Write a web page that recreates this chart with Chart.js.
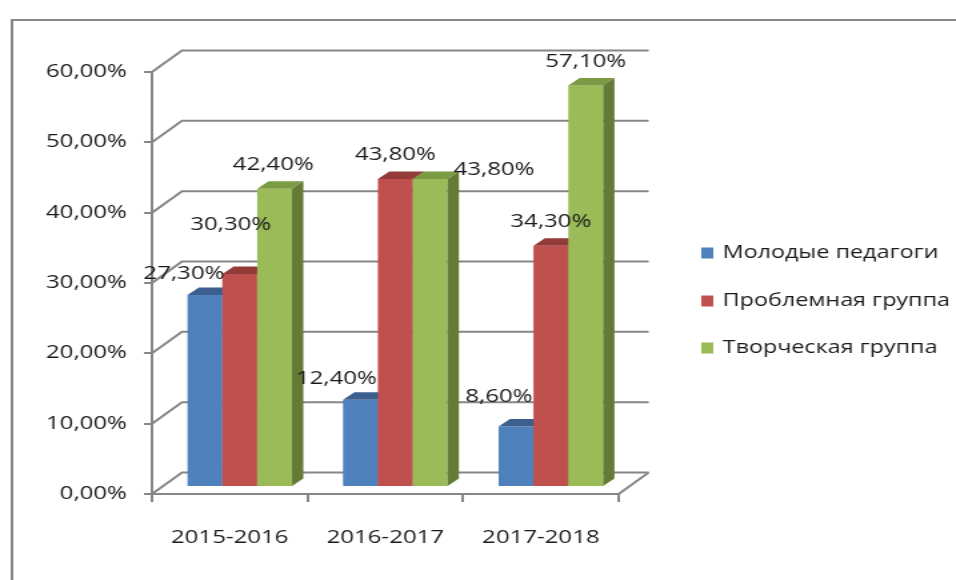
<!DOCTYPE html>
<html>
<head>
<meta charset="utf-8">
<script src="https://cdn.jsdelivr.net/npm/chart.js@4.4.0/dist/chart.umd.min.js"></script>
<style>
html, body { margin: 0; padding: 0; background: #fff; }
#chart { display: block; }
</style>
</head>
<body>
<!-- the reference picture is stretched sideways, so the canvas is too (inline style so Chart.js keeps it) -->
<canvas id="chart" width="717" height="580" style="width:956px;height:580px"></canvas>
<script>
var years = ['2015-2016', '2016-2017', '2017-2018'];
var seriesNames = ['Молодые педагоги', 'Проблемная группа', 'Творческая группа'];
var young = [27.3, 12.4, 8.6];
var problem = [30.3, 43.8, 34.3];
var creative = [42.4, 43.8, 57.1];
var yTicks = [0, 10, 20, 30, 40, 50, 60];

var faces = [
    {front: '#4F81BD', top: '#3B5F8F', side: '#385C89'},
    {front: '#C0504D', top: '#923B39', side: '#8B3836'},
    {front: '#9BBB59', top: '#7A9A44', side: '#637B34'}
];
var gray = '#868686';
var txt = '#1a1a1a';
var font = "'Open Sans'";

// 3d look: back wall offset, bar plane offset, bar depth
var DX = 22.5, DY = -21.5;
var BX = 7.5, BY = -7;
var TX = 8.5, TY = -7.5;
// excel shoves some labels aside so they don't collide
var nudge = {
    '0,0': [-15.75, 3], '1,0': [-6.75, -25], '2,0': [-1, 0],
    '0,1': [-18, 3], '2,1': [48, 15],
    '0,2': [-12.75, -6]
};

function pct(v) {
    return Number(v).toFixed(2).replace('.', ',') + '%';
}

var excel3d = {
    id: 'excel3d',
    beforeDraw: function(chart) {
        var ctx = chart.ctx;
        ctx.save();
        ctx.strokeStyle = gray;
        ctx.lineWidth = 2;
        ctx.beginPath();
        ctx.moveTo(9, 600);
        ctx.lineTo(9, 20);
        ctx.lineTo(730, 20);
        ctx.stroke();
        ctx.restore();
    },
    beforeDatasetsDraw: function(chart) {
        var ctx = chart.ctx;
        var a = chart.chartArea;
        var ys = chart.scales.y;
        ctx.save();

        // side wall + back wall lines
        ctx.strokeStyle = gray;
        ctx.lineWidth = 2;
        ys.ticks.forEach(function(t) {
            var y = ys.getPixelForValue(t.value);
            ctx.beginPath();
            ctx.moveTo(a.left, y);
            ctx.lineTo(a.left + DX, y + DY);
            ctx.lineTo(a.right + DX, y + DY);
            ctx.stroke();
        });
        ctx.beginPath();
        ctx.moveTo(a.right, a.bottom);
        ctx.lineTo(a.right + DX, a.bottom + DY);
        ctx.stroke();

        // bars, category by category so the faces overlap right
        for (var i = 0; i < years.length; i++) {
            chart.data.datasets.forEach(function(ds, d) {
                var el = chart.getDatasetMeta(d).data[i];
                var x0 = el.x - el.width / 2 + BX;
                var x1 = x0 + el.width;
                var top = el.y + BY;
                var base = el.base + BY;
                var f = faces[d];
                ctx.fillStyle = f.front;
                ctx.fillRect(x0, top, el.width, base - top);
                ctx.fillStyle = f.top;
                ctx.beginPath();
                ctx.moveTo(x0, top);
                ctx.lineTo(x1, top);
                ctx.lineTo(x1 + TX, top + TY);
                ctx.lineTo(x0 + TX, top + TY);
                ctx.closePath();
                ctx.fill();
                ctx.fillStyle = f.side;
                ctx.beginPath();
                ctx.moveTo(x1, top);
                ctx.lineTo(x1 + TX, top + TY);
                ctx.lineTo(x1 + TX, base + TY);
                ctx.lineTo(x1, base);
                ctx.closePath();
                ctx.fill();
            });
        }

        // value labels
        ctx.fillStyle = txt;
        ctx.font = '18px ' + font;
        ctx.textAlign = 'center';
        ctx.textBaseline = 'middle';
        chart.data.datasets.forEach(function(ds, d) {
            chart.getDatasetMeta(d).data.forEach(function(el, i) {
                var n = nudge[d + ',' + i] || [0, 0];
                ctx.fillText(pct(ds.data[i]), el.x + BX + n[0], el.y + BY - 24 + n[1]);
            });
        });
        ctx.restore();
        return false;
    },
    afterDraw: function(chart) {
        var ctx = chart.ctx;
        var rows = [253, 301, 348];
        ctx.save();
        ctx.font = '17.5px ' + font;
        ctx.textBaseline = 'middle';
        ctx.textAlign = 'left';
        chart.data.datasets.forEach(function(ds, d) {
            ctx.fillStyle = faces[d].front;
            ctx.fillRect(526, rows[d] - 5.5, 9, 11);
            ctx.fillStyle = txt;
            ctx.fillText(ds.label, 542, rows[d]);
        });
        ctx.restore();
    }
};

var tickFont = {family: font, size: 18};

new Chart(document.getElementById('chart'), {
    type: 'bar',
    data: {
        labels: years,
        datasets: [
            {label: seriesNames[0], data: young, backgroundColor: faces[0].front},
            {label: seriesNames[1], data: problem, backgroundColor: faces[1].front},
            {label: seriesNames[2], data: creative, backgroundColor: faces[2].front}
        ]
    },
    options: {
        responsive: false,
        devicePixelRatio: 1,
        animation: false,
        events: [],
        categoryPercentage: 0.672,
        barPercentage: 1,
        layout: {padding: {left: 0, top: 72, right: 253, bottom: 26}},
        plugins: {
            legend: {display: false},
            tooltip: {enabled: false}
        },
        scales: {
            x: {
                offset: true,
                grid: {offset: true, drawOnChartArea: false, drawTicks: true, tickLength: 8, color: gray, lineWidth: 2},
                border: {display: true, color: gray, width: 2},
                ticks: {color: txt, font: tickFont, padding: 25, maxRotation: 0},
                afterFit: function(s) { s.height = 60; }
            },
            y: {
                min: 0,
                max: 60,
                grid: {drawOnChartArea: false, drawTicks: true, tickLength: 6, color: gray, lineWidth: 2},
                border: {display: true, color: gray, width: 2},
                ticks: {color: txt, font: tickFont, padding: 12.75, callback: pct},
                afterBuildTicks: function(s) {
                    s.ticks = yTicks.map(function(v) { return {value: v}; });
                },
                afterFit: function(s) { s.width = 114; }
            }
        }
    },
    plugins: [excel3d]
});
</script>
</body>
</html>
